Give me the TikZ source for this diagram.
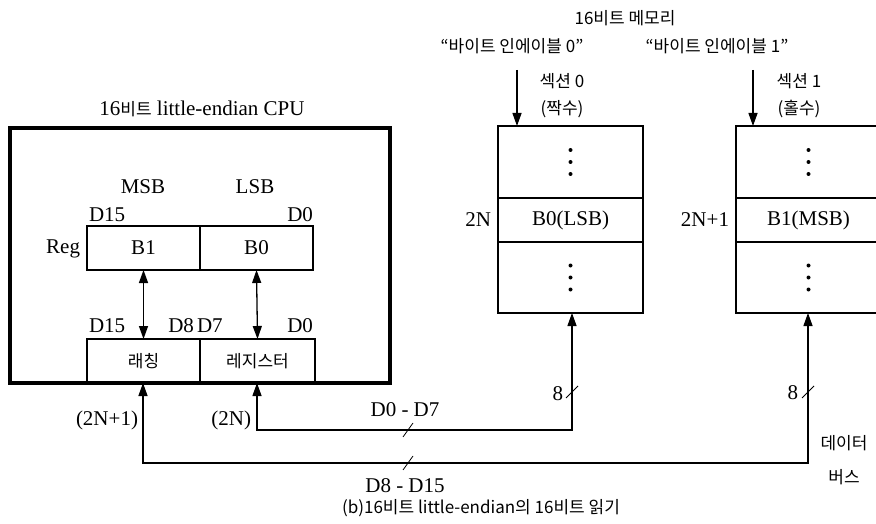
\documentclass[tikz,border=0pt]{standalone}
\usepackage{fontspec}
\setmainfont{Liberation Serif}
\newfontfamily\kr{Noto Sans CJK KR}
\usetikzlibrary{arrows.meta}
\begin{document}
\begin{tikzpicture}[x=1pt,y=-1pt,
  every node/.style={inner sep=0pt,outer sep=0pt},
  lat/.style={font=\fontsize{21}{23}\selectfont},
  kor/.style={font=\kr\fontsize{17}{20}\selectfont},
  cell/.style={draw,line width=1.3pt,anchor=north west},
  wire/.style={line width=1.3pt},
  tip/.style={-{Triangle[length=13pt,width=9pt]}},
  dtip/.style={{Triangle[length=13pt,width=9pt]}-{Triangle[length=13pt,width=9pt]}},
  tick/.style={line width=0.8pt}
]
\useasboundingbox (0,0) rectangle (876,524);
% CPU
\node[draw,line width=3.5pt,minimum width=380pt,minimum height=255pt,anchor=north west] (cpu) at (10,128) {};
\node[lat,anchor=south] (cputitle) at (202,117) {16{\kr\fontsize{17}{20}\selectfont 비트} little-endian CPU};
\node[cell,minimum width=113pt,minimum height=44pt,lat] (b1) at (87,226) {B1};
\node[cell,minimum width=113pt,minimum height=44pt,lat] (b0) at (200,226) {B0};
\node[lat,anchor=east] (reg) at (80,249) {Reg};
\node[lat] (msb) at (143,187) {MSB};
\node[lat] (lsb) at (255,187) {LSB};
\node[lat,anchor=west] (d15a) at (89,215) {D15};
\node[lat,anchor=east] (d0a) at (313,215) {D0};
\node[cell,minimum width=113pt,minimum height=44pt,kor] (latch) at (87,339) {래칭};
\node[cell,minimum width=115pt,minimum height=44pt,kor] (lreg) at (200,339) {레지스터};
\node[lat,anchor=west] (d15b) at (89,326) {D15};
\node[lat,anchor=east] (d8) at (194,326) {D8};
\node[lat,anchor=west] (d7) at (197,326) {D7};
\node[lat,anchor=east] (d0b) at (313,326) {D0};
\draw[wire,dtip] (b1.south) -- (latch.north);
\draw[wire,dtip] (b0.south) -- (lreg.north);
% memory
\node[kor] (memtitle) at (625,18) {16비트 메모리};
\node[kor] (be0) at (512,46) {“바이트 인에이블 0”};
\node[kor] (be1) at (717,46) {“바이트 인에이블 1”};
\node[kor] (sec0) at (562,81) {섹션 0};
\node[kor] (ev) at (562,109) {(짝수)};
\node[kor] (sec1) at (799,81) {섹션 1};
\node[kor] (od) at (799,109) {(홀수)};
\node[cell,minimum width=145pt,minimum height=72pt] (m0a) at (498,126) {};
\node[cell,minimum width=145pt,minimum height=44pt,lat] (m0b) at (498,198) {B0(LSB)};
\node[cell,minimum width=145pt,minimum height=71pt] (m0c) at (498,242) {};
\node[cell,minimum width=145pt,minimum height=72pt] (m1a) at (736,126) {};
\node[cell,minimum width=145pt,minimum height=44pt,lat] (m1b) at (736,198) {B1(MSB)};
\node[cell,minimum width=145pt,minimum height=71pt] (m1c) at (736,242) {};
\foreach \n in {m0a,m0c,m1a,m1c}{
  \foreach \d in {-12,0,12} \fill ([yshift=-\d pt]\n.center) circle (2pt);
}
\node[lat,anchor=east] (l2n) at (491,220) {2N};
\node[lat,anchor=east] (l2n1) at (729,220) {2N+1};
\coordinate (e0s) at (517,70);
\coordinate (e0t) at (517,126);
\coordinate (e1s) at (753,70);
\coordinate (e1t) at (753,126);
\draw[wire,tip] (e0s) -- (e0t);
\draw[wire,tip] (e1s) -- (e1t);
% buses
\coordinate (m0bot) at (572,313);
\coordinate (m1bot) at (808,313);
\coordinate (latbot) at (143,383);
\coordinate (regbot) at (257,383);
\draw[wire,dtip] (regbot) |- (572,430) -- (m0bot);
\draw[wire,dtip] (latbot) |- (808,463) -- (m1bot);
\draw[tick] (403,437) -- (413,423);
\draw[tick] (403,470) -- (413,456);
\draw[tick] (566,398) -- (578,386);
\draw[tick] (802,398) -- (814,386);
\node[lat] (lab07) at (405,410) {D0 - D7};
\node[lat] (lab815) at (405,486) {D8 - D15};
\node[lat,anchor=east] (n2n1) at (138,420) {(2N+1)};
\node[lat,anchor=east] (n2n) at (251,420) {(2N)};
\node[lat,anchor=east] (w8a) at (563,394) {8};
\node[lat,anchor=east] (w8b) at (798,393) {8};
\node[kor] (bus1) at (844,443) {데이터};
\node[kor] (bus2) at (844,477) {버스};
\node[font=\kr\fontsize{17}{20}\selectfont] (cap) at (481,508) {(b)16비트 little-endian의 16비트 읽기};
\end{tikzpicture}
\end{document}
